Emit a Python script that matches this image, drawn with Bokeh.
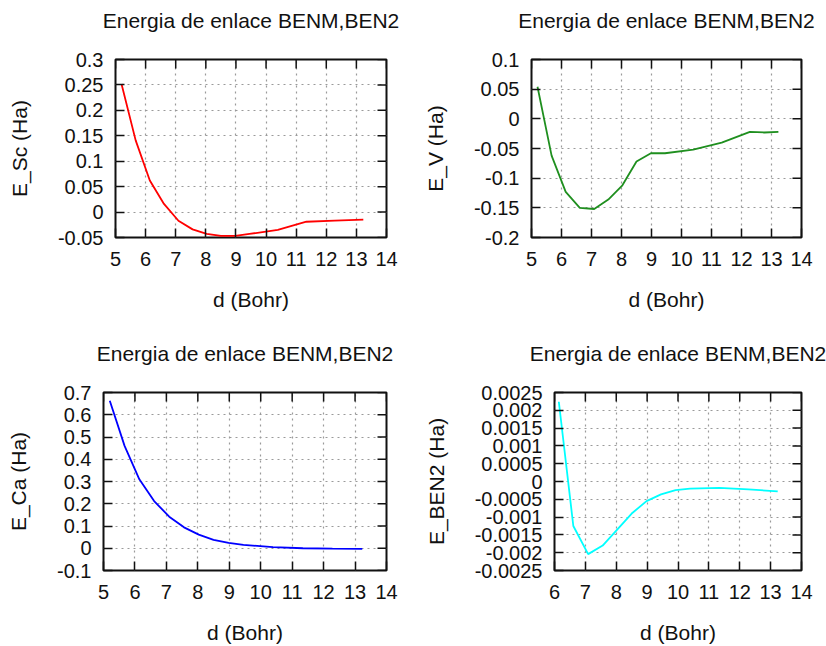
import math

from bokeh.plotting import figure
from bokeh.layouts import column, row
from bokeh.models import FixedTicker, CustomJSTickFormatter
from bokeh.embed import file_html
from bokeh.resources import INLINE

# Interatomic distance (Bohr) and binding energies (Ha)
d_sc = [5.20, 5.67, 6.14, 6.61, 7.09, 7.56, 8.03, 8.50, 8.98, 9.45, 10.39, 11.34, 12.28, 13.23]
e_sc = [0.252, 0.141, 0.062, 0.016, -0.017, -0.034, -0.043, -0.047, -0.047, -0.043, -0.035, -0.019, -0.017, -0.015]

d_v = [5.20, 5.67, 6.14, 6.61, 7.09, 7.56, 8.03, 8.50, 8.98, 9.45, 10.39, 11.34, 12.28, 12.76, 13.23]
e_v = [0.054, -0.062, -0.123, -0.150, -0.152, -0.136, -0.112, -0.072, -0.058, -0.058, -0.052, -0.040, -0.022, -0.023, -0.022]

d_ca = [5.20, 5.67, 6.14, 6.61, 7.09, 7.56, 8.03, 8.50, 8.98, 9.45, 10.39, 11.34, 12.28, 13.23]
e_ca = [0.663, 0.460, 0.310, 0.212, 0.142, 0.094, 0.061, 0.038, 0.024, 0.015, 0.005, 0.000, -0.002, -0.003]

d_ben2 = [6.14, 6.61, 7.09, 7.56, 8.03, 8.50, 8.98, 9.45, 9.92, 10.39, 11.34, 12.28, 13.23]
e_ben2 = [0.00224, -0.00125, -0.00204, -0.00180, -0.00135, -0.00090, -0.00055, -0.00036, -0.00024, -0.00020, -0.00018, -0.00022, -0.00028]

# Axis ticks
x_ticks_a = [5, 6, 7, 8, 9, 10, 11, 12, 13, 14]
x_ticks_b = [6, 7, 8, 9, 10, 11, 12, 13, 14]
y_ticks_sc = [-0.05, 0, 0.05, 0.1, 0.15, 0.2, 0.25, 0.3]
y_ticks_v = [-0.2, -0.15, -0.1, -0.05, 0, 0.05, 0.1]
y_ticks_ca = [-0.1, 0, 0.1, 0.2, 0.3, 0.4, 0.5, 0.6, 0.7]
y_ticks_ben2 = [-0.0025, -0.002, -0.0015, -0.001, -0.0005, 0, 0.0005, 0.001, 0.0015, 0.002, 0.0025]

TITLE = "Energia de enlace BENM,BEN2"
XLABEL = "d (Bohr)"
FONT = "Liberation Sans"
FS_TEXT = "21px"
FS_TICK = "20px"
INK = "#111111"
TICK_LEN = 9

fmt_code = "return String(parseFloat(tick.toFixed(6)));"


def panel(xs, ys, color, ylabel, xt, yt, left, right, top, bottom):
    p = figure(width=413, height=323, output_backend="svg", toolbar_location=None,
               x_range=(xt[0], xt[-1]), y_range=(yt[0], yt[-1]),
               min_border_left=left, min_border_right=right,
               min_border_top=top, min_border_bottom=bottom)
    p.title.text = TITLE
    p.title.align = "center"
    p.title.text_font = FONT
    p.title.text_font_size = FS_TEXT
    p.title.text_font_style = "normal"
    p.title.text_color = INK
    p.title.standoff = 4
    # lift the title well clear of the frame
    p.title.padding = dict(left=0, right=0, top=0, bottom=26)

    p.outline_line_color = INK
    p.outline_line_width = 2
    p.outline_line_alpha = 1.0
    p.background_fill_color = "white"
    p.border_fill_color = "white"

    for g, ticks in ((p.xgrid[0], xt), (p.ygrid[0], yt)):
        g.ticker = FixedTicker(ticks=ticks)
        g.grid_line_color = "#9a9a9a"
        g.grid_line_dash = "2 4"
        g.grid_line_width = 1.2

    fmt = CustomJSTickFormatter(code=fmt_code)
    for ax, ticks in ((p.xaxis[0], xt), (p.yaxis[0], yt)):
        ax.ticker = FixedTicker(ticks=ticks)
        ax.formatter = fmt
        ax.axis_line_color = None
        ax.major_tick_in = TICK_LEN
        ax.major_tick_out = 0
        ax.major_tick_line_width = 1.5
        ax.major_tick_line_color = INK
        ax.minor_tick_in = 0
        ax.minor_tick_out = 0
        ax.major_label_text_font = FONT
        ax.major_label_text_font_size = FS_TICK
        ax.major_label_text_color = INK
        ax.axis_label_text_font = FONT
        ax.axis_label_text_font_size = FS_TEXT
        ax.axis_label_text_font_style = "normal"
        ax.axis_label_text_color = INK

    p.xaxis.axis_label = XLABEL
    p.xaxis.major_label_standoff = 14
    p.xaxis.axis_label_standoff = 19
    p.yaxis.axis_label = ylabel
    p.yaxis.major_label_standoff = 12
    p.yaxis.axis_label_standoff = 24

    # mirrored inward tick marks on the top and right edges of the frame
    x1 = xt[-1]
    y1 = yt[-1]
    p.ray(x=xt, y=[y1] * len(xt), length=TICK_LEN, length_units="screen",
          angle=-math.pi / 2, line_color=INK, line_width=1.5)
    p.ray(x=[x1] * len(yt), y=yt, length=TICK_LEN, length_units="screen",
          angle=math.pi, line_color=INK, line_width=1.5)

    p.line(xs, ys, line_color=color, line_width=1.8)
    return p


p1 = panel(d_sc, e_sc, "#ff0000", "E_Sc (Ha)", x_ticks_a, y_ticks_sc, 115, 27, 59, 86)
p2 = panel(d_v, e_v, "#1f8f1f", "E_V (Ha)", x_ticks_a, y_ticks_v, 118, 25, 59, 86)
p3 = panel(d_ca, e_ca, "#0000ff", "E_Ca (Ha)", x_ticks_a, y_ticks_ca, 103, 27, 69, 76)
p4 = panel(d_ben2, e_ben2, "#00ffff", "E_BEN2 (Ha)", x_ticks_b, y_ticks_ben2, 141, 25, 69, 76)

layout = column(row(p1, p2), row(p3, p4))

open("out.html", "w").write(file_html(layout, INLINE))
